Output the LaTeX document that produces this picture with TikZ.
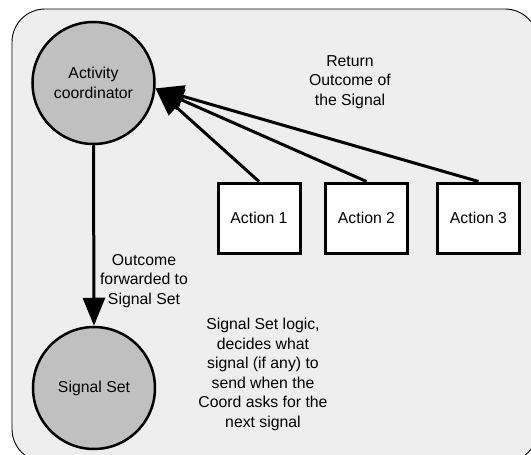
\documentclass[tikz,border=0pt]{standalone}
\usepackage{fontspec}
\setmainfont{Liberation Sans}
\usetikzlibrary{arrows.meta}
\definecolor{panel}{HTML}{EEEEEE}
\definecolor{bubble}{HTML}{C0C0C0}
\begin{document}
\begin{tikzpicture}[x=1pt,y=-1pt,
  txt/.style={font=\fontsize{15.8}{19.5}\selectfont, align=center, inner sep=0pt},
  bubblenode/.style={circle, draw=black, fill=bubble, line width=2.5pt,
    minimum size=122pt, inner sep=0pt, txt},
  actbox/.style={rectangle, draw=black, fill=white, line width=3pt,
    minimum width=82pt, minimum height=70pt, inner sep=0pt, txt},
  flow/.style={line width=3pt, -{Triangle[length=28pt,width=22pt]}}]
\useasboundingbox (0,0) rectangle (531,455);
\begin{scope}
  \clip (0,0) rectangle (531,455);
  % background panel
  \draw[fill=panel, draw=black, line width=0.9pt, rounded corners=33pt]
    (12,9) rectangle (538,462);
\end{scope}
% nodes
\node[bubblenode] (act) at (93.5,83) {Activity\\coordinator};
\node[bubblenode] (sig) at (94,388) {Signal Set};
\node[actbox] (a1) at (259,218) {Action 1};
\node[actbox] (a2) at (366.5,218) {Action 2};
\node[actbox] (a3) at (478.5,218) {Action 3};
% connectors
\draw[flow] (act.south) -- (sig.north);
\draw[flow] (a1.north) -- (act.-5);
\draw[flow] (a2.north) -- (act.-5);
\draw[flow] (a3.north) -- (act.-5);
% labels
\node[txt] (lret) at (350,82) {Return\\Outcome of\\the Signal};
\node[txt] (lfwd) at (144,281) {Outcome\\forwarded to\\Signal Set};
\node[txt] (llog) at (263,374.5) {Signal Set logic,\\decides what\\signal (if any) to\\send when the\\Coord asks for the\\next signal};
\end{tikzpicture}
\end{document}
